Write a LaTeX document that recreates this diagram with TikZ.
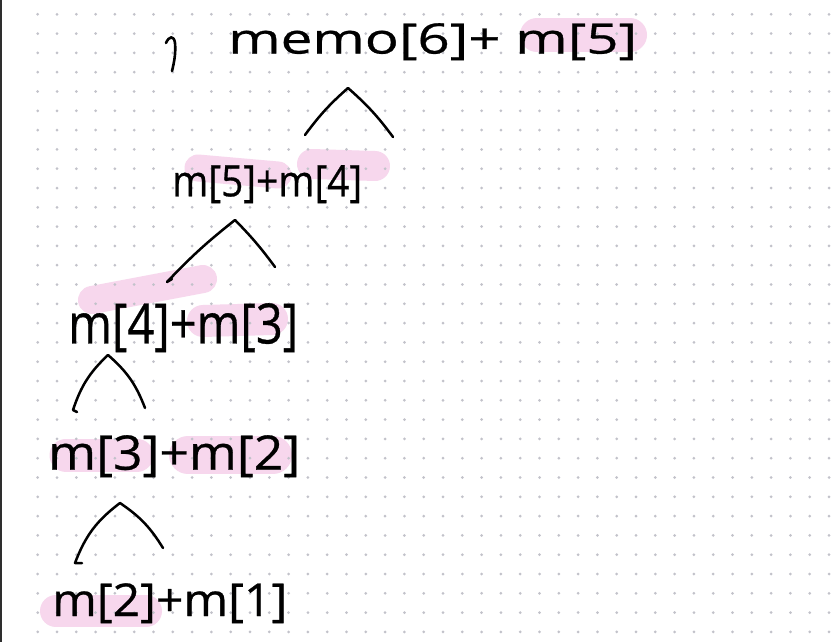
\documentclass[tikz,border=0pt]{standalone}
\usepackage{fontspec}
\usepackage{graphicx}
\setmainfont{Open Sans}
\newfontfamily\handfont{Open Sans}[FakeBold=0.6]
\usetikzlibrary{positioning}
\definecolor{marker}{HTML}{F7D7ED}
\definecolor{dotgray}{HTML}{C2C2CA}
\definecolor{frame}{HTML}{2E2E2E}
\newcommand{\scribble}[3]{\resizebox*{#1}{#2}{\handfont #3}}

\begin{document}
\begin{tikzpicture}[x=1pt,y=-1pt,
  hl/.style={draw=marker,line cap=round,line width=#1},
  rowtext/.style={anchor=north west,inner sep=0pt,text=black},
  caret/.style={draw=black,line width=2.5pt,line cap=round,line join=round}]
\useasboundingbox (0,0) rectangle (836,642);
\fill[white] (0,0) rectangle (836,642);
\fill[frame] (0,0) rectangle (2,642);
% highlighter strokes
\draw[hl=34pt] (537,35)--(630,35);
\draw[hl=27pt] (198,168)--(278,175);
\draw[hl=30pt] (312,164)--(375,166);
\draw[hl=28pt] (92,300)--(203,279);
\draw[hl=32pt] (203,321)--(272,319);
\draw[hl=33pt] (66,455)--(137,455);
\draw[hl=38pt] (188,455)--(273,455);
\draw[hl=32pt] (56,611)--(146,611);
% dot grid
\foreach \i in {0,...,41}
  \foreach \j in {0,...,32}
    \fill[dotgray] (37.7+19.3*\i,14.3+19.3*\j) circle (1.5pt);
% the rows
\node[rowtext] (memo6) at (228,23) {\scribble{409pt}{37pt}{memo[6]+ m[5]}};
\node[rowtext] (m5) at (172,165) {\scribble{190pt}{38pt}{m[5]+m[4]}};
\node[rowtext] (m4) at (68,303) {\scribble{230pt}{49pt}{m[4]+m[3]}};
\node[rowtext] (m3) at (48,435) {\scribble{252pt}{42pt}{m[3]+m[2]}};
\node[rowtext] (m2) at (52,583) {\scribble{235pt}{40pt}{m[2]+m[1]}};
% mark before the first row
\draw[caret,line width=2.6pt] (166,43) .. controls (169,36) and (174,35) .. (175,43) .. controls (176,53) and (174,63) .. (172,71);
% carets
\coordinate (a1) at (305,135); \coordinate (t1) at (348,88); \coordinate (b1) at (393,137);
\coordinate (a2) at (167,282); \coordinate (t2) at (235,220); \coordinate (b2) at (275,267);
\coordinate (a3) at (73,410); \coordinate (t3) at (108,355); \coordinate (b3) at (145,408);
\coordinate (a4) at (75,563); \coordinate (t4) at (120,503); \coordinate (b4) at (163,548);
\draw[caret] (a1) to[bend left=6] (t1) to[bend left=6] (b1);
\draw[caret] ([xshift=5pt,yshift=3pt]a2) -- (a2) to[bend left=4] (t2) to[bend left=4] (b2);
\draw[caret] ([xshift=4pt,yshift=-2pt]a3) -- (a3) to[bend left=14] (t3) to[bend left=14] (b3);
\draw[caret] ([xshift=7pt]a4) -- (a4) to[bend left=16] (t4) to[bend left=12] (b4);
\end{tikzpicture}
\end{document}
